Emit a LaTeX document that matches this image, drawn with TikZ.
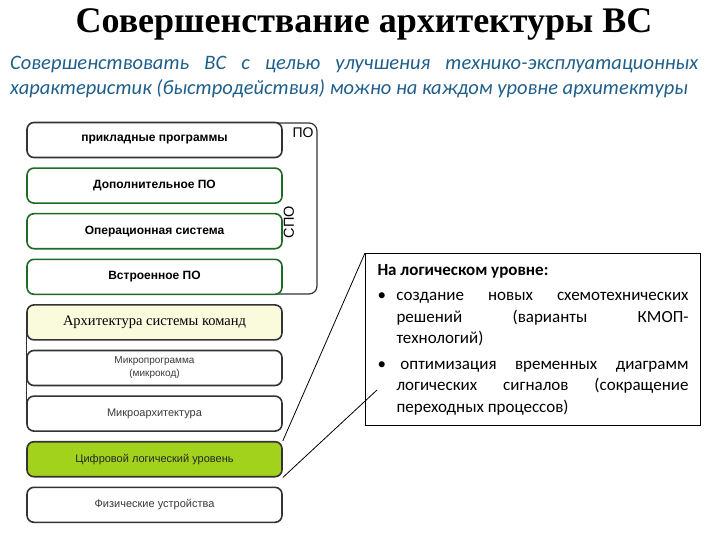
\documentclass[tikz,border=0pt]{standalone}
\usepackage{fontspec}
\setmainfont{Liberation Serif}
\setsansfont{Liberation Sans}
\newfontfamily\calibri{Carlito}
\usetikzlibrary{positioning}
\definecolor{frameBorder}{HTML}{333333}
\definecolor{levelGreen}{HTML}{1E6B23}
\definecolor{accent}{HTML}{1F5F8B}
\definecolor{limeFill}{HTML}{A2D21C}
\definecolor{isaFill}{HTML}{FAFBDD}
\definecolor{textGray}{HTML}{3A3A3A}

\begin{document}
\begin{tikzpicture}[x=1pt, y=-1pt,
    level/.style={draw=frameBorder, line width=1.6pt, rounded corners=7pt, fill=white,
      minimum width=255pt, minimum height=35pt, inner sep=0pt, align=center,
      font=\sffamily\fontsize{11}{13}\selectfont, text=textGray},
    swlevel/.style={level, draw=levelGreen, text=black,
      font=\sffamily\bfseries\fontsize{12}{13}\selectfont},
    node distance=9pt]
  \useasboundingbox (0,0) rectangle (720,540);

  % title and intro
  \node[font=\bfseries\fontsize{36}{38}\selectfont] (title) at (364,24) {Совершенствание архитектуры ВС};
  \node[anchor=north west, inner sep=0pt, text width=688pt, align=justify, text=accent,
        font=\calibri\itshape\fontsize{20.5}{25}\selectfont] (intro) at (10,56)
    {Совершенствовать ВС с целью улучшения технико-эксплуатационных\linebreak
     характеристик (быстродействия) можно на каждом уровне архитектуры};

  % frame of the software levels
  \draw[frameBorder, line width=1.2pt, rounded corners=8pt] (250,123) -- (317,123) -- (317,294) -- (250,294);

  % levels
  \node[swlevel, draw=frameBorder] (apps) at (154.5,140) {прикладные программы};
  \node[swlevel, below=of apps] (extra) {Дополнительное ПО};
  \node[swlevel, below=of extra] (os) {Операционная система};
  \node[swlevel, below=of os] (firmware) {Встроенное ПО};
  \node[level, below=of firmware, fill=isaFill, text=black,
        font=\rmfamily\fontsize{14.5}{16}\selectfont] (isa) {Архитектура системы команд};
  \node[level, below=of isa, font=\sffamily\fontsize{10}{13}\selectfont] (ucode) {Микропрограмма\\(микрокод)};
  \node[level, below=of ucode] (march) {Микроархитектура};
  \node[level, below=of march, fill=limeFill, text=black!85] (logiclvl) {Цифровой логический уровень};
  \node[level, below=of logiclvl] (phys) {Физические устройства};

  \draw[frameBorder, line width=1.4pt] (isa.west) -- (march.west);

  \node[font=\sffamily\fontsize{14}{14}\selectfont] (po) at (303,133) {ПО};
  \node[rotate=90, font=\sffamily\fontsize{14.5}{15}\selectfont] (spo) at (289,222) {СПО};

  % callout
  \node[draw=black, line width=1pt, anchor=north west, minimum width=335pt, minimum height=172pt,
        text width=311pt, inner xsep=12pt, align=justify,
        font=\calibri\fontsize{17}{21.5}\selectfont] (logic) at (365,253)
    {\textbf{На логическом уровне:}\par\vspace{4pt}
     \noindent\hangindent=19pt\hangafter=1\makebox[19pt][l]{\textbullet}создание новых схемотехнических\linebreak
     решений (варианты КМОП-\linebreak технологий)\par\vspace{4pt}
     \noindent\hangindent=19pt\hangafter=1\makebox[19pt][l]{\textbullet}\hspace{4pt}оптимизация временных диаграмм\linebreak
     логических сигналов (сокращение\linebreak переходных процессов)\par};
  \coordinate (logicend) at (377,390);

  \draw[line width=0.8pt] (logiclvl.north east) -- (logic.north west);
  \draw[line width=0.8pt] (logiclvl.south east) -- (logicend);
\end{tikzpicture}
\end{document}
